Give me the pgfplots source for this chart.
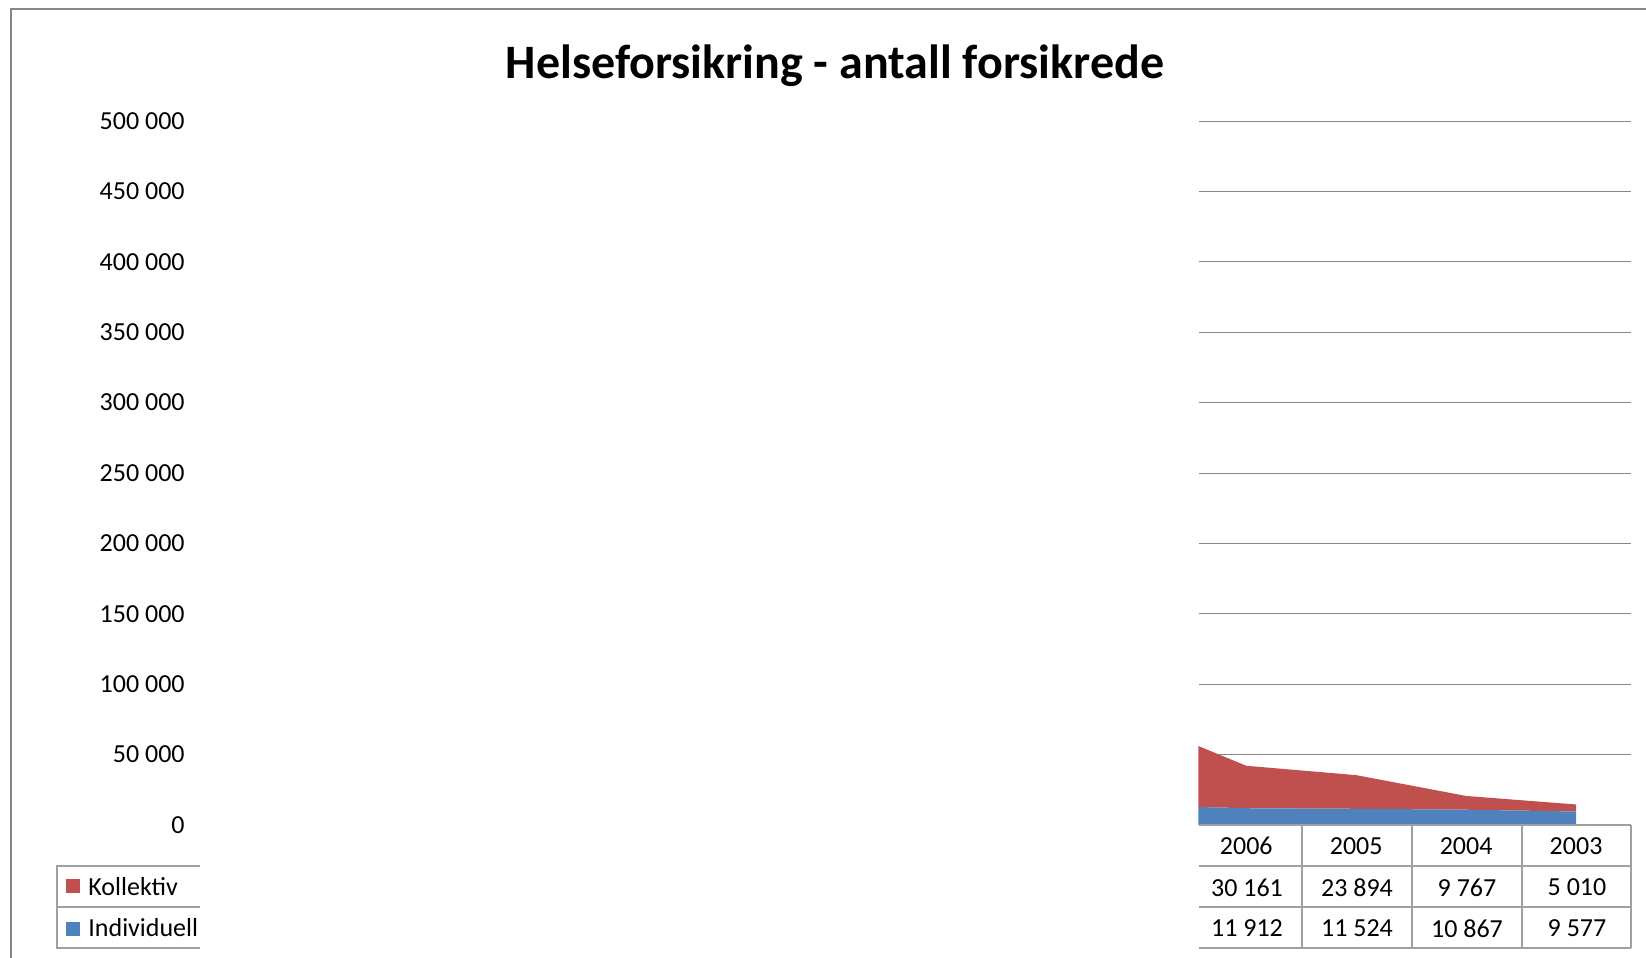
\documentclass[border=0pt]{standalone}
\usepackage{fontspec}
\setmainfont{Carlito}
\usepackage{pgfplots}
\pgfplotsset{compat=1.18}
\definecolor{kollektiv}{HTML}{C0504D}
\definecolor{individuell}{HTML}{4F81BD}
\definecolor{gridgray}{HTML}{868686}
\definecolor{tablegray}{HTML}{A0A0A0}

\begin{document}
\begin{tikzpicture}[x=0.5pt,y=-0.5pt]
\useasboundingbox (0,0) rectangle (1646,958);
% chart frame (only left and top edges are visible)
\draw[gridgray, line width=1.1pt] (11,958) -- (11,9) -- (1646,9);
% title
\node[anchor=base, font=\fontsize{24}{28}\selectfont\bfseries] at (835,78) {Helseforsikring - antall forsikrede};
% gridlines, only where the plot is drawn
\foreach \k in {1,...,10}
  \draw[gridgray, line width=0.5pt] (1199,{825-70.4*\k}) -- (1631,{825-70.4*\k});

\begin{axis}[
  at={(101pt,-412.5pt)}, anchor=south west,
  scale only axis, width=714.5pt, height=352pt,
  xmin=-9.5, xmax=3.5, ymin=0, ymax=500000,
  axis line style={draw=none},
  major tick length=0pt,
  stack plots=y, area style,
  font=\fontsize{13}{15}\selectfont,
  ytick distance=50000, scaled y ticks=false,
  /pgf/number format/.cd, fixed, 1000 sep={\ }, assume math mode=true,
  /pgfplots/.cd,
  yticklabel style={anchor=east, inner sep=0pt, xshift=-8.5pt},
  xtick={0,1,2,3}, xticklabels={2006,2005,2004,2003},
  xticklabel style={anchor=center, inner sep=0pt, yshift=-10.6pt},
]
\addplot[fill=individuell, draw=none] coordinates {
  (-0.436,12800) (0,11912) (1,11524) (2,10867) (3,9577)
} \closedcycle;
\addplot[fill=kollektiv, draw=none] coordinates {
  (-0.436,43300) (0,30161) (1,23894) (2,9767) (3,5010)
} \closedcycle;
\end{axis}

% data table
\begin{scope}[tablegray, line width=0.6pt]
\draw (1199,825) -- (1631,825);
\draw (1199,866) -- (1631,866);
\draw (1199,907) -- (1631,907);
\draw (1199,948) -- (1631,948);
\foreach \xx in {1302,1412,1522,1631}
  \draw (\xx,825) -- (\xx,948);
% legend part of the table
\draw (200,866) -- (57,866) -- (57,948) -- (200,948);
\draw (57,907) -- (200,907);
\end{scope}
\fill[kollektiv] (66,879) rectangle (80,893);
\fill[individuell] (66,922) rectangle (80,936);
\begin{scope}[font=\fontsize{13}{15}\selectfont]
\node[anchor=west, inner sep=0pt] at (88,887) {Kollektiv};
\node[anchor=west, inner sep=0pt] at (88,928) {Individuell};
\node at (1247,887.5) {30 161};
\node at (1357,887.5) {23 894};
\node at (1467,887.5) {9 767};
\node at (1577,887.5) {5 010};
\node at (1247,928.5) {11 912};
\node at (1357,928.5) {11 524};
\node at (1467,928.5) {10 867};
\node at (1577,928.5) {9 577};
\end{scope}
\end{tikzpicture}
\end{document}
